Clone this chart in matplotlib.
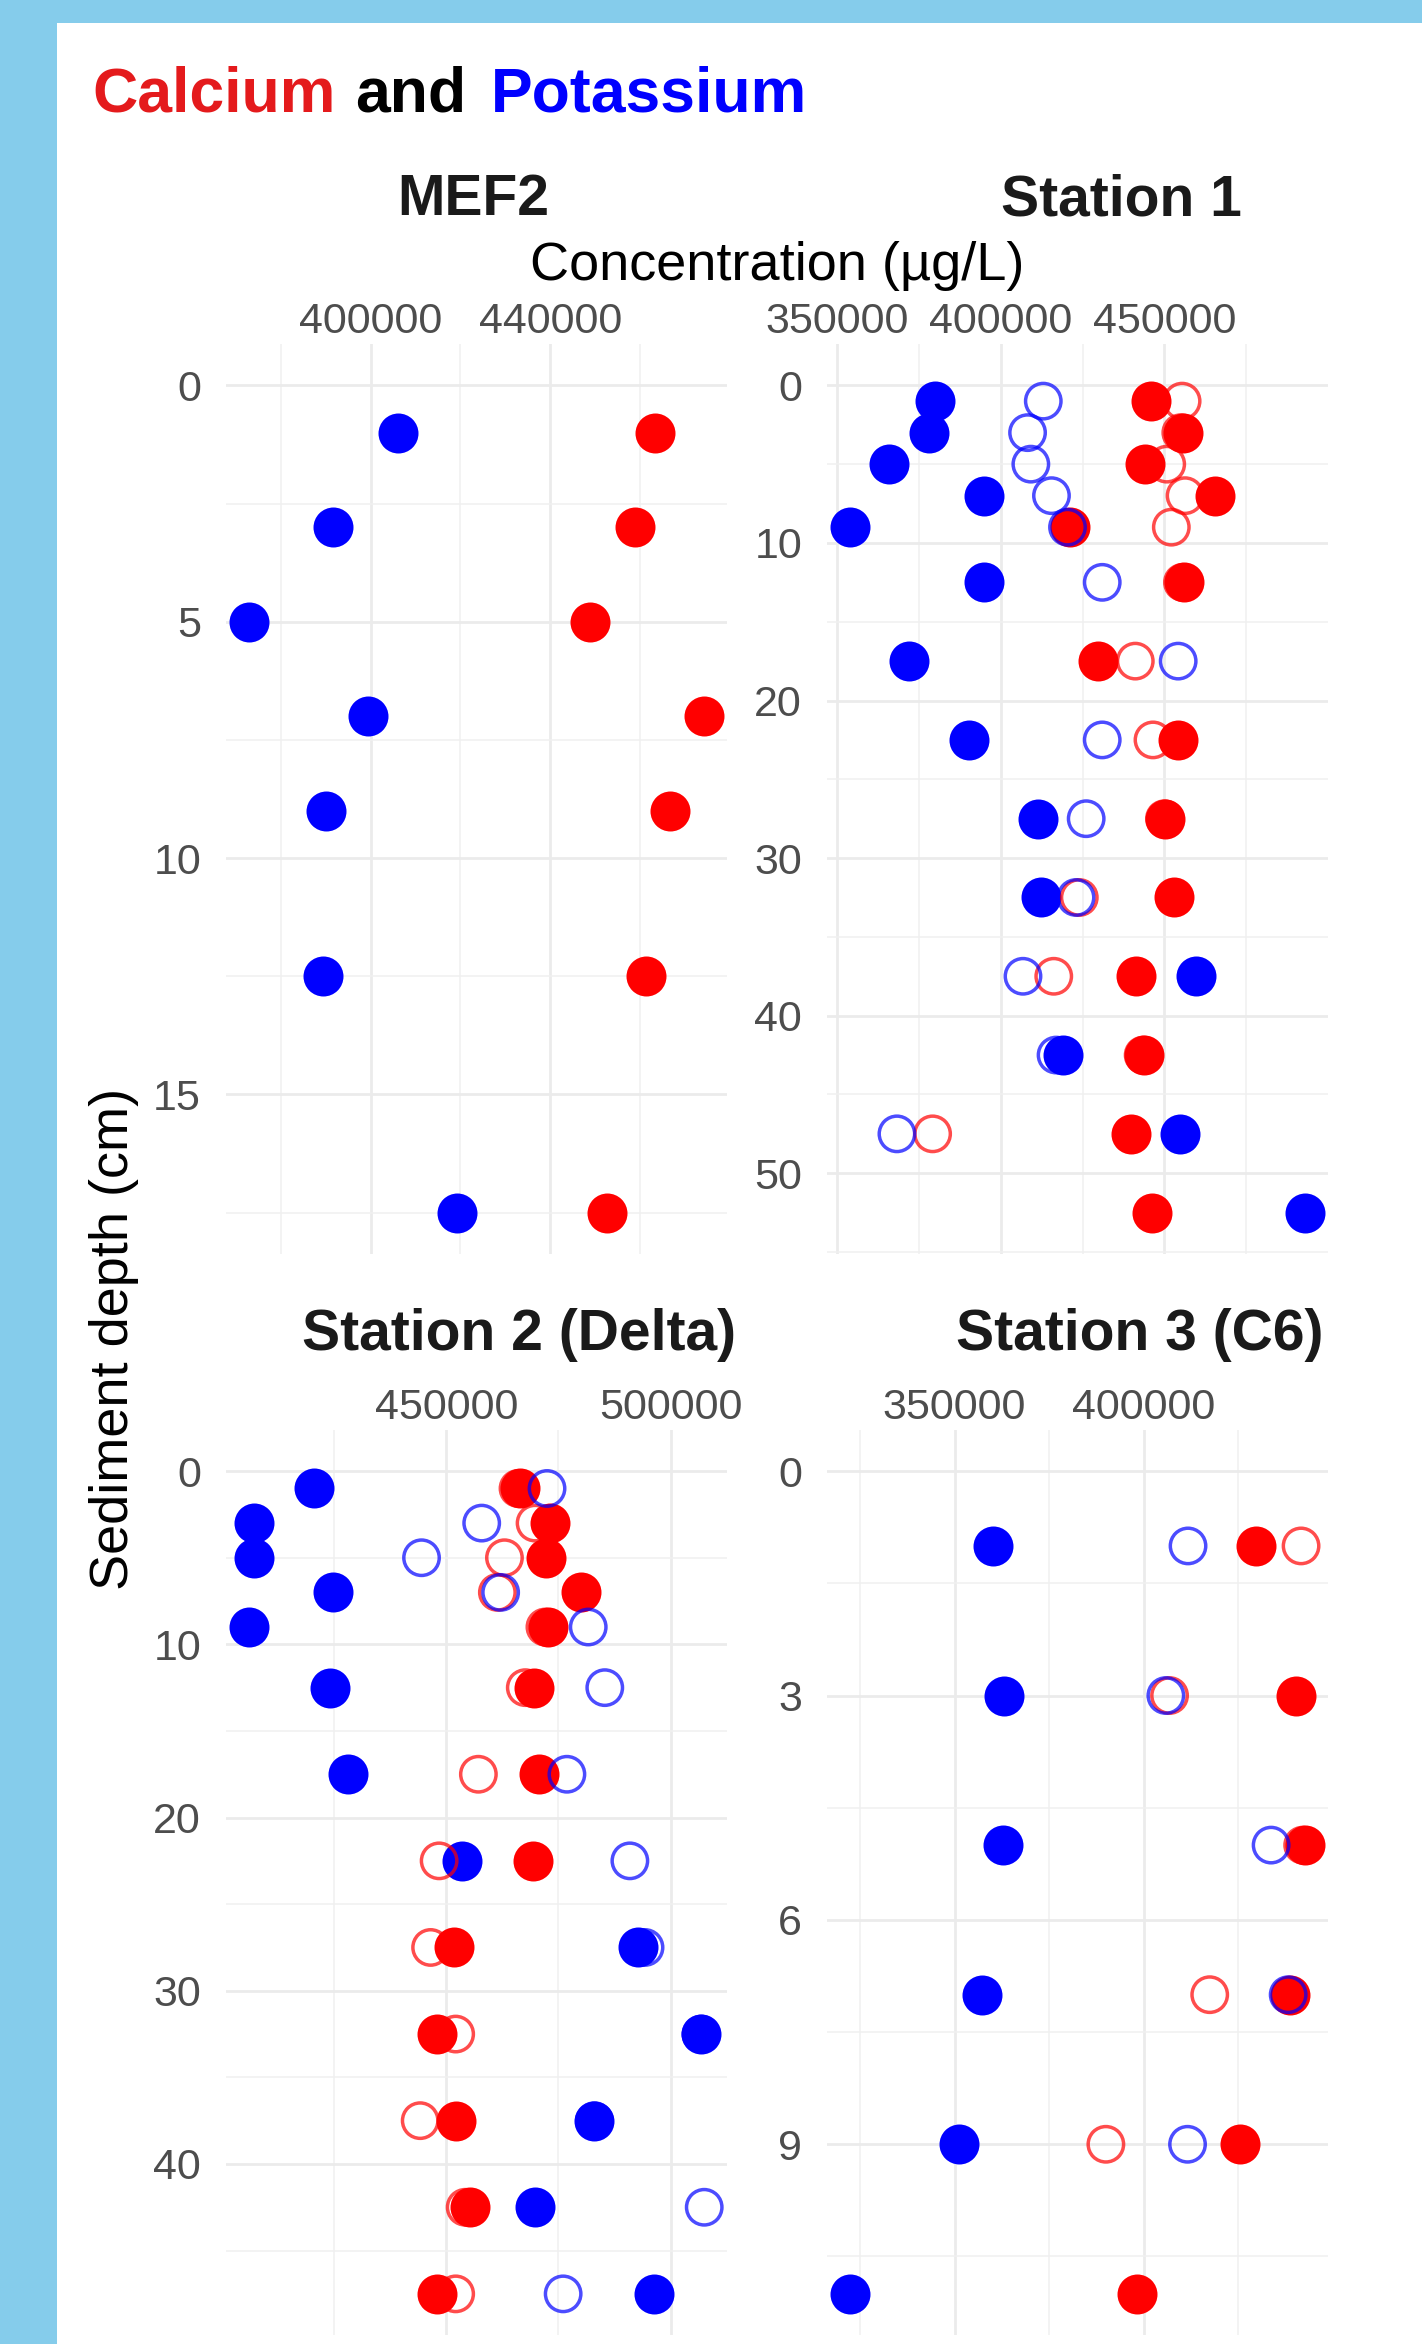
import numpy as np
import matplotlib
matplotlib.use('Agg')
import matplotlib.pyplot as plt
from matplotlib.ticker import MultipleLocator, AutoMinorLocator, FuncFormatter
from matplotlib.patches import Rectangle

plt.rcParams['font.family'] = ['Liberation Sans', 'DejaVu Sans']

nan = np.nan

# ---------------- data (ug/L), depth in cm ----------------
mef2_depth = [1, 3, 5, 7, 9, 12.5, 17.5]
mef2_ca = [463200, 458800, 448900, 474240, 466550, 461390, 452650]
mef2_k = [406100, 391700, 372900, 399470, 390000, 389470, 419270]

st1_depth = [1, 3, 5, 7, 9, 12.5, 17.5, 22.5, 27.5, 32.5, 37.5, 42.5, 47.5, 52.5]
st1_ca = [445800, 455600, 444100, 465500, 421100, 455900, 429700, 454200,
          450300, 452800, 441300, 443700, 439900, 446100]
st1_k = [379900, 378200, 365900, 394800, 353900, 394800, 372000, 390400,
         411300, 412400, 459600, 419000, 454900, 493000]
st1_ca_open = [455400, 455000, 450700, 456300, 452100, 455500, 441100, 446500,
               450000, 424000, 416200, 443500, 379200, nan]
st1_k_open = [413000, 408200, 409200, 415500, 420400, 431000, 454200, 431000,
              426100, 423000, 406800, 416900, 368300, nan]

st2_depth = [1, 3, 5, 7, 9, 12.5, 17.5, 22.5, 27.5, 32.5, 37.5, 42.5, 47.5]
st2_ca = [466350, 473200, 472150, 480070, 472680, 469520, 470570, 469310,
          451790, 447890, 452110, 455280, 447890]
st2_k = [420460, 407270, 407270, 424680, 406000, 424150, 428060, 453480,
         492730, 506760, 483020, 469830, 496210]
st2_ca_open = [466000, 469800, 462980, 461400, 472000, 467620, 457170, 448420,
               446520, 452110, 444200, 454220, 452110]
st2_k_open = [472470, 457910, 444500, 462130, 481650, 485340, 476900, 490930,
              494310, 506760, 483020, 507500, 476060]

st3_depth = [1, 3, 5, 7, 9, 11]
st3_ca = [429630, 440370, 442680, 438780, 425370, 398290]
st3_k = [360120, 363170, 362800, 357320, 351220, 322320]
st3_ca_open = [441580, 406830, 442000, 417440, 390000, nan]
st3_k_open = [411710, 405850, 433660, 438170, 411580, nan]

######################################################################
W, H = 1422, 2344
fig = plt.figure(figsize=(W / 100, H / 100), dpi=100, facecolor='#85CCEB')
fig.patches.append(Rectangle((57 / W, 0), 1 - 57 / W, 1 - 23 / H,
                             transform=fig.transFigure, facecolor='white',
                             edgecolor='none', zorder=-1))


def px(l, t, r, b):
    return [l / W, 1 - b / H, (r - l) / W, (b - t) / H]


def panel(rect, depth, ca, k, ca_o, k_o, xstep, ystep):
    ax = fig.add_axes(rect)
    ax.set_facecolor('white')
    xs = np.concatenate([ca, k, ca_o, k_o]).astype(float)
    lo, hi = np.nanmin(xs), np.nanmax(xs)
    r = hi - lo
    ax.set_xlim(lo - 0.05 * r, hi + 0.05 * r)
    dmax = max(depth)
    ax.set_ylim(dmax * 1.05, -0.05 * dmax)

    ax.scatter(ca, depth, s=829, color='#FF0000', lw=0, zorder=3)
    ax.scatter(k, depth, s=829, color='#0000FF', lw=0, zorder=3)
    if len(ca_o):
        ax.scatter(ca_o, depth, s=650, facecolors='none', edgecolors='#FF0000',
                   lw=2.5, alpha=0.7, zorder=4)
        ax.scatter(k_o, depth, s=650, facecolors='none', edgecolors='#0000FF',
                   lw=2.5, alpha=0.7, zorder=4)

    ax.xaxis.set_major_locator(MultipleLocator(xstep))
    ax.xaxis.set_minor_locator(AutoMinorLocator(2))
    ax.yaxis.set_major_locator(MultipleLocator(ystep))
    ax.yaxis.set_minor_locator(AutoMinorLocator(2))
    ax.xaxis.set_major_formatter(FuncFormatter(lambda v, p: f'{v:.0f}'))
    ax.grid(True, which='major', color='#EBEBEB', lw=2.0)
    ax.grid(True, which='minor', color='#F0F0F0', lw=1.1)
    ax.set_axisbelow(True)
    for s in ax.spines.values():
        s.set_visible(False)
    ax.tick_params(which='both', length=0, labelsize=31, labelcolor='#4D4D4D')
    ax.tick_params(axis='x', top=True, bottom=False, labeltop=True,
                   labelbottom=False, pad=1.5)
    ax.tick_params(axis='y', pad=18)
    return ax


panel(px(226, 344, 727, 1254), mef2_depth, mef2_ca, mef2_k, [], [], 40000, 5)
panel(px(827, 344, 1328, 1254), st1_depth, st1_ca, st1_k, st1_ca_open, st1_k_open, 50000, 10)
panel(px(226, 1430, 727, 2335), st2_depth, st2_ca, st2_k, st2_ca_open, st2_k_open, 50000, 10)
panel(px(827, 1430, 1328, 2335), st3_depth, st3_ca, st3_k, st3_ca_open, st3_k_open, 50000, 3)

# strip titles
strip_kw = dict(fontsize=41, fontweight='bold', color='#1A1A1A', ha='center', va='baseline')
fig.text(473 / W, 1 - 215 / H, 'MEF2', **strip_kw)
fig.text(1121 / W, 1 - 215 / H, 'Station 1', **strip_kw)
fig.text(519 / W, 1 - 1350 / H, 'Station 2 (Delta)', **strip_kw)
fig.text(1140 / W, 1 - 1350 / H, 'Station 3 (C6)', **strip_kw)

# axis titles
fig.text(777 / W, 1 - 280 / H, 'Concentration (µg/L)', fontsize=39,
         ha='center', va='baseline')
fig.text(114 / W, 1 - 1339 / H, 'Sediment depth (cm)', fontsize=39,
         rotation=90, ha='center', va='center')

# title
title_kw = dict(fontsize=45, fontweight='bold', va='baseline', ha='left')
fig.text(92 / W, 1 - 111 / H, 'Calcium', color='#E41A1C', **title_kw)
fig.text(355 / W, 1 - 111 / H, 'and', color='black', **title_kw)
fig.text(491 / W, 1 - 111 / H, 'Potassium', color='#0000FF', **title_kw)

fig.savefig('out.png', dpi=100, facecolor=fig.get_facecolor())
